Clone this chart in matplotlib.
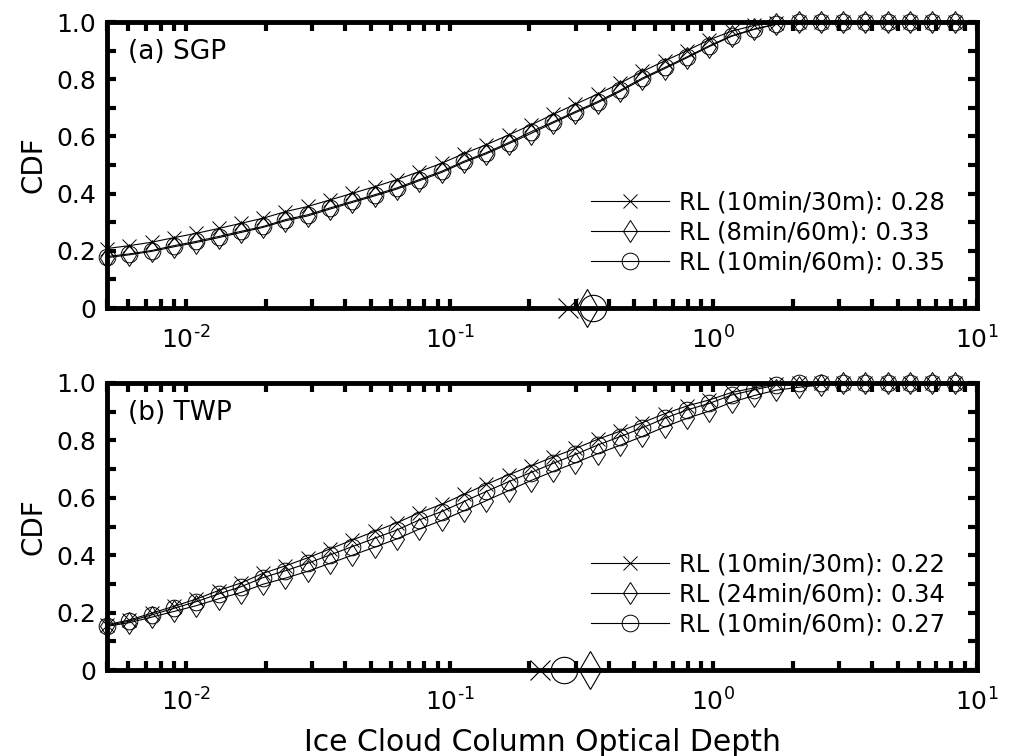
import numpy as np
import matplotlib
matplotlib.use("Agg")
import matplotlib.pyplot as plt
from matplotlib.ticker import (LogLocator, MultipleLocator, NullFormatter, FixedLocator,
                               FixedFormatter, FuncFormatter)

# Log-spaced optical-depth bins; the CDF is evaluated at the lower bin edges
tau_edges = np.logspace(np.log10(0.005), 1.0, 40)
tau = tau_edges[:-1]

# (a) SGP cumulative distributions
sgp_10min_30m = [0.208, 0.218, 0.230, 0.246, 0.261, 0.278, 0.296, 0.314, 0.337, 0.355,
                 0.378, 0.401, 0.424, 0.449, 0.477, 0.506, 0.540, 0.571, 0.605, 0.640,
                 0.677, 0.713, 0.748, 0.786, 0.827, 0.864, 0.900, 0.938, 0.968, 0.988,
                 0.998, 1.0, 1.0, 1.0, 1.0, 1.0, 1.0, 1.0, 1.0]
sgp_8min_60m = [0.176, 0.186, 0.198, 0.214, 0.229, 0.246, 0.264, 0.282, 0.305, 0.322,
                0.346, 0.369, 0.392, 0.416, 0.445, 0.474, 0.509, 0.539, 0.574, 0.610,
                0.647, 0.683, 0.718, 0.757, 0.800, 0.837, 0.875, 0.914, 0.950, 0.974,
                0.992, 1.0, 1.0, 1.0, 1.0, 1.0, 1.0, 1.0, 1.0]
sgp_10min_60m = [0.180, 0.189, 0.201, 0.218, 0.233, 0.250, 0.268, 0.285, 0.309, 0.326,
                 0.350, 0.373, 0.396, 0.420, 0.449, 0.478, 0.513, 0.543, 0.578, 0.616,
                 0.651, 0.687, 0.722, 0.761, 0.804, 0.841, 0.878, 0.917, 0.952, 0.975,
                 0.993, 1.0, 1.0, 1.0, 1.0, 1.0, 1.0, 1.0, 1.0]

# (b) TWP cumulative distributions
twp_10min_30m = [0.158, 0.174, 0.198, 0.222, 0.247, 0.277, 0.303, 0.337, 0.363, 0.391,
                 0.422, 0.453, 0.483, 0.513, 0.548, 0.577, 0.612, 0.647, 0.680, 0.711,
                 0.742, 0.772, 0.804, 0.832, 0.862, 0.893, 0.920, 0.941, 0.967, 0.983,
                 0.996, 1.0, 1.0, 1.0, 1.0, 1.0, 1.0, 1.0, 1.0]
twp_24min_60m = [0.152, 0.165, 0.184, 0.204, 0.224, 0.248, 0.270, 0.299, 0.320, 0.344,
                 0.372, 0.400, 0.428, 0.457, 0.491, 0.521, 0.555, 0.590, 0.625, 0.660,
                 0.692, 0.722, 0.754, 0.783, 0.814, 0.847, 0.877, 0.902, 0.933, 0.956,
                 0.975, 0.985, 0.993, 1.0, 1.0, 1.0, 1.0, 1.0, 1.0]
twp_10min_60m = [0.155, 0.170, 0.192, 0.215, 0.238, 0.265, 0.290, 0.322, 0.346, 0.372,
                 0.401, 0.430, 0.459, 0.488, 0.523, 0.552, 0.587, 0.622, 0.656, 0.688,
                 0.720, 0.751, 0.784, 0.813, 0.844, 0.877, 0.906, 0.929, 0.958, 0.976,
                 0.993, 1.0, 1.0, 1.0, 1.0, 1.0, 1.0, 1.0, 1.0]

sgp_labels = ["RL (10min/30m)", "RL (8min/60m)", "RL (10min/60m)"]
sgp_median = [0.28, 0.33, 0.35]
twp_labels = ["RL (10min/30m)", "RL (24min/60m)", "RL (10min/60m)"]
twp_median = [0.22, 0.34, 0.27]
panel_titles = ["(a) SGP", "(b) TWP"]

markers = ["x", "d", "o"]
marker_size = {"x": 9.5, "d": 11.5, "o": 12}
median_size = {"x": 15, "d": 19, "o": 19}

W, H, DPI = 1012, 756, 100
fig = plt.figure(figsize=(W / DPI, H / DPI), dpi=DPI)
plt.rcParams["font.family"] = ["DejaVu Sans"]


def decade_label(value, pos):
    """Power-of-ten label with a short hyphen for negative exponents."""
    exp = int(round(np.log10(value)))
    sign = "\u2010" if exp < 0 else ""
    return r"$\mathdefault{10^{%s%d}}$" % (sign, abs(exp))


def px_axes(left, top, right, bottom):
    return fig.add_axes([left / W, 1 - bottom / H, (right - left) / W, (bottom - top) / H])


ax_a = px_axes(107, 22, 977, 308)
ax_b = px_axes(107, 383, 977, 670)

panels = [
    (ax_a, [sgp_10min_30m, sgp_8min_60m, sgp_10min_60m], sgp_labels, sgp_median, panel_titles[0]),
    (ax_b, [twp_10min_30m, twp_24min_60m, twp_10min_60m], twp_labels, twp_median, panel_titles[1]),
]

for ax, series, labels, medians, title in panels:
    handles = []
    for cdf, lab, med, mk in zip(series, labels, medians, markers):
        h, = ax.plot(tau, cdf, color="black", lw=0.8, marker=mk, ms=marker_size[mk],
                     mfc="none", mec="black", mew=0.7, clip_on=False,
                     label=f"{lab}: {med:.2f}")
        handles.append(h)
    for med, mk in zip(medians, markers):
        ax.plot([med], [0], linestyle="none", marker=mk, ms=median_size[mk],
                mfc="none", mec="black", mew=0.8, clip_on=False, zorder=4)

    ax.set_xscale("log")
    ax.set_xlim(0.005, 10)
    ax.set_ylim(0, 1)
    ax.xaxis.set_major_locator(LogLocator(base=10, numticks=10))
    ax.xaxis.set_major_formatter(FuncFormatter(decade_label))
    ax.xaxis.set_minor_locator(LogLocator(base=10, subs=np.arange(2, 10), numticks=20))
    ax.xaxis.set_minor_formatter(NullFormatter())
    ax.yaxis.set_major_locator(FixedLocator([0, 0.2, 0.4, 0.6, 0.8, 1.0]))
    ax.yaxis.set_major_formatter(FixedFormatter(["0", "0.2", "0.4", "0.6", "0.8", "1.0"]))
    ax.yaxis.set_minor_locator(MultipleLocator(0.1))

    for sp in ax.spines.values():
        sp.set_linewidth(3.5)
    ax.tick_params(which="both", direction="in", top=True, right=True,
                   length=6.5, width=3, labelsize=18)
    ax.tick_params(axis="x", which="major", pad=13)
    ax.tick_params(axis="y", which="major", pad=8)
    ax.set_ylabel("CDF", fontsize=20, labelpad=6)

    ax.text(0.024, 0.895, title, transform=ax.transAxes, fontsize=19,
            ha="left", va="center")

    ax.legend(handles=handles, loc="lower right", bbox_to_anchor=(0.963, 0.118),
              frameon=False, fontsize=17.5, numpoints=1, handlelength=3.2,
              handletextpad=0.4, labelspacing=0.24, borderpad=0, borderaxespad=0)

ax_b.set_xlabel("Ice Cloud Column Optical Depth", fontsize=21.5, labelpad=9)

fig.savefig("out.png", dpi=DPI)
